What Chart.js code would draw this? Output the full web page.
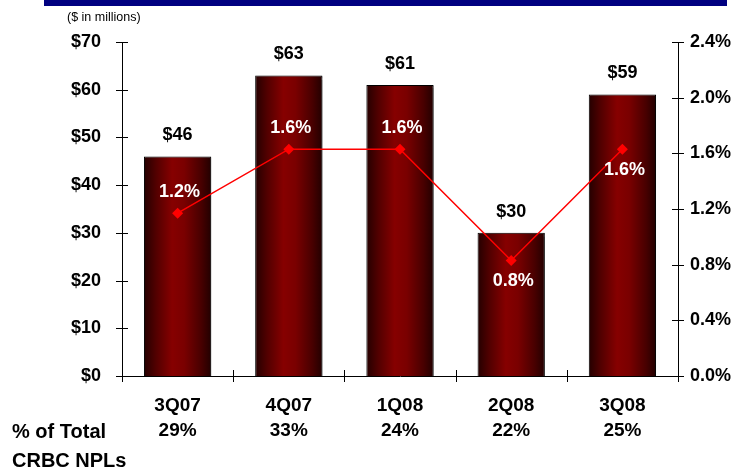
<!DOCTYPE html>
<html>
<head>
<meta charset="utf-8">
<script src="https://cdn.jsdelivr.net/npm/chart.js@4"></script>
<style>
  html, body { margin: 0; padding: 0; background: #ffffff; }
  #wrap { width: 740px; height: 470px; position: relative; }
</style>
</head>
<body>
<div id="wrap"><canvas id="npl" width="740" height="470"></canvas></div>
<script>
// Quarterly CRBC non-performing loans ($ millions) and NPL ratio (%)
const quarters = ['3Q07', '4Q07', '1Q08', '2Q08', '3Q08'];
const shareOfTotal = ['29%', '33%', '24%', '22%', '25%'];
const nplMillions = [46, 63, 61, 30, 59];
const nplRatioPct = [1.17, 1.63, 1.63, 0.83, 1.63];
const dollarTicks = [0, 10, 20, 30, 40, 50, 60, 70];
const percentTicks = [0, 0.4, 0.8, 1.2, 1.6, 2.0, 2.4];

const FONT = "'Liberation Sans', Arial, sans-serif";
const BAR_PCT = 0.605;

// Cylinder-like horizontal shading for each bar
function barFill(ctx) {
  const chart = ctx.chart;
  const xs = chart.scales && chart.scales.x;
  if (!chart.chartArea || !xs) return '#7a0000';
  const cx = xs.getPixelForValue(ctx.dataIndex);
  const half = (xs.width / quarters.length) * BAR_PCT / 2;
  const g = chart.ctx.createLinearGradient(cx - half, 0, cx + half, 0);
  g.addColorStop(0, '#240000');
  g.addColorStop(0.18, '#520000');
  g.addColorStop(0.42, '#860000');
  g.addColorStop(0.6, '#7a0000');
  g.addColorStop(0.85, '#480000');
  g.addColorStop(1, '#220000');
  return g;
}

const decorations = {
  id: 'decorations',
  beforeDatasetDraw(chart, args) {
    if (args.meta.type === 'bar') {
      const c = chart.ctx;
      c.save();
      c.shadowColor = 'rgba(0,0,0,0.35)';
      c.shadowOffsetX = 2;
      c.shadowOffsetY = 1;
      c.shadowBlur = 1;
    }
  },
  afterDatasetDraw(chart, args) {
    if (args.meta.type === 'bar') chart.ctx.restore();
  },
  afterDraw(chart, args, opts) {
    const c = chart.ctx;
    const { x, y, y1 } = chart.scales;
    c.save();

    // header band
    c.fillStyle = '#000080';
    c.fillRect(44, 0, 683, 6);

    // unit note
    c.fillStyle = '#000';
    c.font = '12.5px ' + FONT;
    c.textAlign = 'left';
    c.textBaseline = 'middle';
    c.fillText('($ in millions)', 67, 18);

    // row captions under the axis
    c.font = 'bold 20px ' + FONT;
    c.fillText('% of Total', 12, 432);
    c.fillText('CRBC NPLs', 12, 461);

    // tick marks crossing each axis line
    c.strokeStyle = '#000';
    c.lineWidth = 1;
    c.beginPath();
    y.ticks.forEach(t => {
      const py = Math.round(y.getPixelForValue(t.value)) + 0.5;
      c.moveTo(y.right - 6, py); c.lineTo(y.right + 6, py);
    });
    y1.ticks.forEach(t => {
      const py = Math.round(y1.getPixelForValue(t.value)) + 0.5;
      c.moveTo(y1.left - 6, py); c.lineTo(y1.left + 6, py);
    });
    const step = x.width / quarters.length;
    for (let i = 0; i <= quarters.length; i++) {
      const px = Math.round(x.left + i * step) + 0.5;
      c.moveTo(px, x.top - 6); c.lineTo(px, x.top + 6);
    }
    c.stroke();

    // value labels
    c.textAlign = 'center';
    c.textBaseline = 'middle';
    c.font = 'bold 18px ' + FONT;
    const bars = chart.getDatasetMeta(1).data;
    bars.forEach((b, i) => {
      c.fillStyle = '#000';
      c.fillText('$' + nplMillions[i], b.x, b.y - 21);
    });
    const pts = chart.getDatasetMeta(0).data;
    pts.forEach((p, i) => {
      c.fillStyle = '#fff';
      c.fillText(nplRatioPct[i].toFixed(1) + '%', p.x + 2, p.y + opts.ratioSide[i] * 21);
    });
    c.restore();
  }
};

new Chart(document.getElementById('npl'), {
  data: {
    labels: quarters.map((q, i) => [q, shareOfTotal[i]]),
    datasets: [
      {
        type: 'line',
        label: 'NPL ratio',
        data: nplRatioPct,
        yAxisID: 'y1',
        order: 0,
        borderColor: '#ff0000',
        borderWidth: 1.5,
        tension: 0,
        pointStyle: 'rectRot',
        pointRadius: 5.5,
        pointBackgroundColor: '#ff0000',
        pointBorderColor: '#ff0000',
        pointBorderWidth: 0
      },
      {
        type: 'bar',
        label: 'NPLs',
        data: nplMillions,
        yAxisID: 'y',
        order: 1,
        backgroundColor: barFill,
        borderColor: '#000',
        borderWidth: 1,
        barPercentage: BAR_PCT,
        categoryPercentage: 1
      }
    ]
  },
  options: {
    responsive: false,
    animation: false,
    devicePixelRatio: 1,
    layout: { padding: { top: 42, left: 0, right: 0, bottom: 0 } },
    plugins: {
      legend: { display: false },
      tooltip: { enabled: false },
      decorations: { ratioSide: [-1, -1, -1, 1, 1] }
    },
    scales: {
      x: {
        offset: true,
        grid: { display: false, drawTicks: false },
        border: { display: true, color: '#000', width: 1 },
        ticks: {
          color: '#000',
          font: { family: FONT, size: 19, weight: 'bold', lineHeight: 1.34 },
          padding: 17,
          maxRotation: 0,
          autoSkip: false
        },
        afterFit: s => { s.height = 94; }
      },
      y: {
        position: 'left',
        min: 0,
        max: 70,
        afterBuildTicks: s => { s.ticks = dollarTicks.map(v => ({ value: v })); },
        grid: { display: false, drawTicks: false },
        border: { display: true, color: '#000', width: 1 },
        ticks: {
          color: '#000',
          font: { family: FONT, size: 18, weight: 'bold' },
          padding: 21,
          callback: v => '$' + v
        },
        afterFit: s => { s.width = 122; }
      },
      y1: {
        position: 'right',
        min: 0,
        max: 2.4,
        afterBuildTicks: s => { s.ticks = percentTicks.map(v => ({ value: v })); },
        grid: { display: false, drawTicks: false },
        border: { display: true, color: '#000', width: 1 },
        ticks: {
          color: '#000',
          font: { family: FONT, size: 18, weight: 'bold' },
          padding: 12,
          callback: v => Number(v).toFixed(1) + '%'
        },
        afterFit: s => { s.width = 62; }
      }
    }
  },
  plugins: [decorations]
});
</script>
</body>
</html>
